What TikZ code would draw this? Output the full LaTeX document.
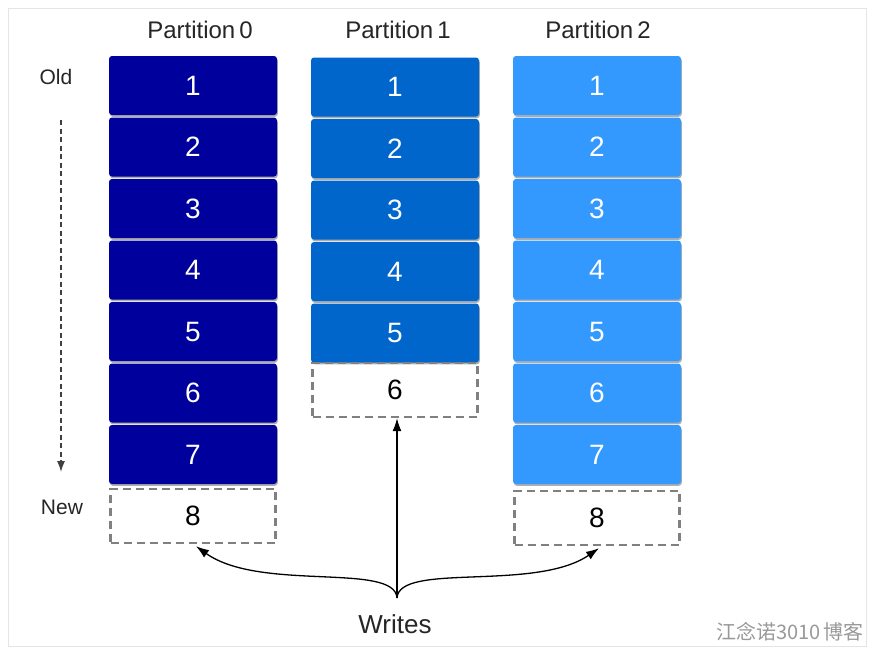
\documentclass[tikz,border=0pt]{standalone}
\usepackage{fontspec}
\setmainfont{Liberation Sans}
\newfontfamily\cjkfont{Noto Sans CJK SC}
\usetikzlibrary{arrows.meta,shadows}
\definecolor{pzero}{RGB}{0,0,156}
\definecolor{pone}{RGB}{0,102,204}
\definecolor{ptwo}{RGB}{51,153,255}
\tikzset{
  msgbox/.style={draw=none, fill=#1, rounded corners=3pt, minimum width=168pt, minimum height=59pt, inner sep=0pt, text=white, font=\fontsize{28}{30}\selectfont, drop shadow={shadow xshift=0.8pt, shadow yshift=-1.8pt, fill=black!45, opacity=.7}},
  newbox/.style={draw=black!50, dash pattern=on 8pt off 5pt, line width=2.4pt, minimum width=165pt, minimum height=54pt, inner sep=0pt, text=black, font=\fontsize{28}{30}\selectfont},
  ptitle/.style={font=\fontsize{24}{26}\selectfont, text=black!85},
  side/.style={font=\fontsize{21}{23}\selectfont, text=black!85},
  wr/.style={line width=1.3pt, -{Latex[length=13pt,width=9pt]}},
}
\begin{document}
\begin{tikzpicture}[x=1pt,y=-1pt]
\useasboundingbox (0,0) rectangle (875,654);
\fill[white] (0,0) rectangle (875,654);
\draw[black!10, line width=1pt] (8,8) rectangle (866,646);
% titles
\node[ptitle] (t0) at (200,30) {Partition\,0};
\node[ptitle] (t1) at (398,30) {Partition\,1};
\node[ptitle] (t2) at (598,30) {Partition\,2};
% partition 0
\foreach \i in {1,...,7} {
  \node[msgbox=pzero] (p0-\i) at (193,{85.5+61.5*(\i-1)}) {\i};
}
\node[newbox] (p0-8) at (193,516) {8};
% partition 1
\foreach \i in {1,...,5} {
  \node[msgbox=pone] (p1-\i) at (395,{87+61.5*(\i-1)}) {\i};
}
\node[newbox] (p1-6) at (395,390) {6};
% partition 2
\foreach \i in {1,...,7} {
  \node[msgbox=ptwo] (p2-\i) at (597,{85.5+61.5*(\i-1)}) {\i};
}
\node[newbox] (p2-8) at (597,518) {8};
% old / new
\node[side] (old) at (56,77) {Old};
\node[side] (new) at (62,507) {New};
\coordinate (oldtail) at (61,120);
\coordinate (newhead) at (61,472);
\draw[line width=1.3pt, black!75, dash pattern=on 5pt off 3.5pt, -{Latex[length=11pt,width=8pt]}] (oldtail) -- (newhead);
% writes
\node[font=\fontsize{26}{28}\selectfont, text=black!85] (writes) at (395,624) {Writes};
\coordinate (fork) at (397,598);
\draw[wr] (fork) -- ([xshift=2pt]p1-6.south);
\draw[wr] (fork) .. controls (395,562) and (260,592) .. ([xshift=3pt,yshift=-2pt]p0-8.south);
\draw[wr] (fork) .. controls (399,562) and (535,592) .. ([xshift=2pt,yshift=-2pt]p2-8.south);
% watermark
\node[font=\cjkfont\fontsize{20}{22}\selectfont, text=black!40] (wm) at (790,632) {江念诺3010\,博客};
\end{tikzpicture}
\end{document}
